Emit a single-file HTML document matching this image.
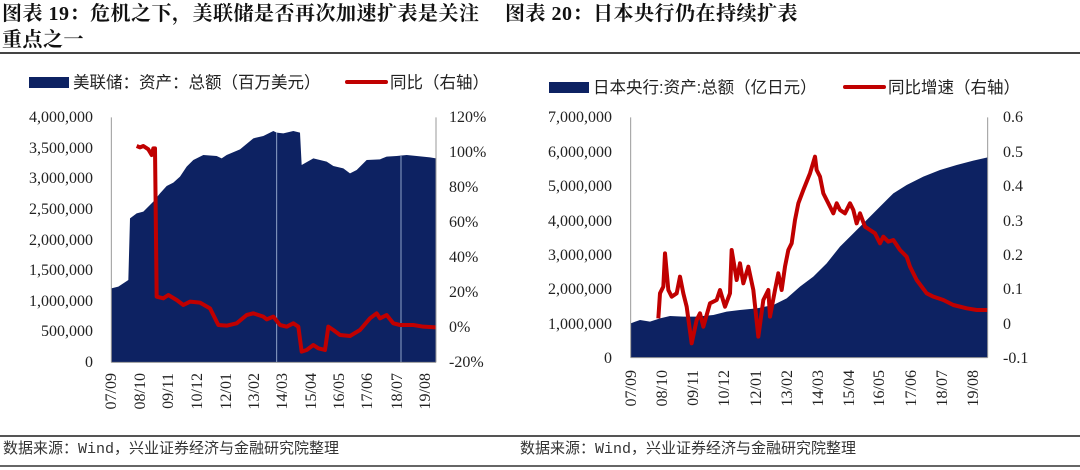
<!DOCTYPE html>
<html><head><meta charset="utf-8"><style>
body{margin:0;background:#fff;}
svg{display:block;}
.t{font-family:"Liberation Serif","Noto Serif CJK SC",serif;font-weight:bold;font-size:20px;fill:#111;letter-spacing:0.5px;}
.l{font-family:"Liberation Sans","Noto Sans CJK SC",sans-serif;font-size:16.5px;fill:#222;}
.n{font-family:"Liberation Serif","Noto Serif CJK SC",serif;font-size:16px;fill:#222;}
.f{font-family:"Liberation Mono","Noto Sans CJK SC",monospace;font-size:15px;fill:#333;}
</style></head><body>
<svg width="1080" height="470" viewBox="0 0 1080 470" xmlns="http://www.w3.org/2000/svg">
<text class="t" x="2" y="20">图表 19：危机之下，美联储是否再次加速扩表是关注</text>
<text class="t" x="2" y="46">重点之一</text>
<text class="t" x="505" y="20">图表 20：日本央行仍在持续扩表</text>
<line x1="0" y1="53" x2="1080" y2="53" stroke="#444" stroke-width="2"/>
<line x1="0" y1="436" x2="1080" y2="436" stroke="#555" stroke-width="2"/>
<line x1="0" y1="466" x2="1080" y2="466" stroke="#333" stroke-width="1.5"/>
<text class="f" x="3" y="453">数据来源：Wind，兴业证券经济与金融研究院整理</text>
<text class="f" x="520" y="453">数据来源：Wind，兴业证券经济与金融研究院整理</text>

<rect x="29" y="77" width="40" height="11" fill="#0d2262"/>
<text class="l" x="73" y="88">美联储：资产：总额（百万美元）</text>
<line x1="347" y1="82" x2="386" y2="82" stroke="#c00000" stroke-width="4" stroke-linecap="round"/>
<text class="l" x="390" y="88">同比（右轴）</text>

<g transform="translate(0,60) scale(0.33333)">
<path fill="#0d2262" d="M334,685 L355,680 L385,660 L390,475 L410,460 L430,455 L460,425 L480,400 L500,378 L520,368 L540,350 L560,320 L580,300 L610,285 L650,288 L665,295 L680,285 L720,268 L760,235 L790,228 L820,213 L830,218 L850,220 L880,213 L900,218 L905,315 L940,295 L980,305 L1000,318 L1030,325 L1050,340 L1070,330 L1100,300 L1140,298 L1160,290 L1190,288 L1220,285 L1250,288 L1290,292 L1308,295 L1308,907 L334,907 Z"/>
<line x1="830" y1="218" x2="830" y2="907" stroke="#8fa3c8" stroke-width="3"/>
<line x1="1203" y1="288" x2="1203" y2="907" stroke="#8fa3c8" stroke-width="3"/>
<polyline fill="none" stroke="#c00000" stroke-width="12" stroke-linejoin="round" points="410,258 420,262 430,258 445,268 455,285 460,265 465,265 470,710 490,715 505,705 530,720 550,735 570,725 600,728 630,745 655,795 680,797 710,790 740,765 760,760 790,770 800,778 820,770 840,795 860,800 880,790 895,800 905,875 920,870 940,855 955,865 975,870 985,800 1000,810 1020,825 1050,828 1080,810 1110,775 1130,760 1140,775 1160,765 1180,790 1200,795 1240,795 1270,800 1308,802"/>
<g stroke="#999" stroke-width="3">
<line x1="334" y1="172" x2="334" y2="907"/><line x1="1308" y1="172" x2="1308" y2="907"/>
<line x1="334" y1="907" x2="1308" y2="907"/>
</g>
</g>
<g class="n" text-anchor="end">
<text x="93" y="122">4,000,000</text><text x="93" y="153">3,500,000</text><text x="93" y="183">3,000,000</text><text x="93" y="214">2,500,000</text><text x="93" y="245">2,000,000</text><text x="93" y="275">1,500,000</text><text x="93" y="306">1,000,000</text><text x="93" y="336">500,000</text><text x="93" y="367">0</text>
</g>
<g class="n">
<text x="449" y="122">120%</text><text x="449" y="157">100%</text><text x="449" y="192">80%</text><text x="449" y="227">60%</text><text x="449" y="262">40%</text><text x="449" y="297">20%</text><text x="449" y="332">0%</text><text x="449" y="367">-20%</text>
</g>
<g class="n" text-anchor="end">
<text transform="translate(116,373) rotate(-90)">07/09</text>
<text transform="translate(145,373) rotate(-90)">08/10</text>
<text transform="translate(173,373) rotate(-90)">09/11</text>
<text transform="translate(202,373) rotate(-90)">10/12</text>
<text transform="translate(231,373) rotate(-90)">12/01</text>
<text transform="translate(259,373) rotate(-90)">13/02</text>
<text transform="translate(287,373) rotate(-90)">14/03</text>
<text transform="translate(316,373) rotate(-90)">15/04</text>
<text transform="translate(344,373) rotate(-90)">16/05</text>
<text transform="translate(372,373) rotate(-90)">17/06</text>
<text transform="translate(402,373) rotate(-90)">18/07</text>
<text transform="translate(430,373) rotate(-90)">19/08</text>
</g>

<rect x="549" y="82" width="40" height="11" fill="#0d2262"/>
<text class="l" x="593" y="93">日本央行:资产:总额（亿日元）</text>
<line x1="845" y1="87" x2="884" y2="87" stroke="#c00000" stroke-width="4" stroke-linecap="round"/>
<text class="l" x="888" y="93">同比增速（右轴）</text>

<g transform="translate(540,60) scale(0.33333)">
<path fill="#0d2262" d="M272,790 L300,780 L330,785 L360,775 L390,768 L430,770 L470,770 L520,765 L560,755 L600,750 L650,745 L700,735 L740,715 L780,680 L820,650 L860,610 L900,560 L940,520 L980,480 L1020,440 L1060,400 L1100,375 L1150,350 L1200,330 L1250,315 L1300,302 L1343,292 L1343,893 L272,893 Z"/>
<polyline fill="none" stroke="#c00000" stroke-width="12" stroke-linejoin="round" points="355,775 360,700 370,680 375,580 385,690 395,710 410,700 420,650 430,700 440,740 455,850 470,780 480,760 490,800 510,730 530,720 540,690 555,740 570,700 575,570 590,660 600,610 610,670 625,620 640,690 655,830 670,720 685,690 690,770 705,690 715,640 725,690 735,620 745,570 755,550 765,480 775,430 790,390 810,340 825,290 830,330 840,350 850,400 860,420 870,440 880,460 890,430 900,450 915,460 930,430 940,450 950,490 960,460 975,500 990,510 1005,520 1020,550 1030,530 1045,545 1060,540 1080,570 1100,590 1110,620 1130,660 1160,700 1180,710 1210,720 1240,735 1280,745 1310,750 1343,750"/>
<g stroke="#999" stroke-width="3">
<line x1="272" y1="172" x2="272" y2="893"/><line x1="1343" y1="172" x2="1343" y2="893"/>
<line x1="272" y1="893" x2="1343" y2="893"/>
</g>
</g>
<g class="n" text-anchor="end">
<text x="612" y="122">7,000,000</text><text x="612" y="157">6,000,000</text><text x="612" y="191">5,000,000</text><text x="612" y="226">4,000,000</text><text x="612" y="260">3,000,000</text><text x="612" y="294">2,000,000</text><text x="612" y="329">1,000,000</text><text x="612" y="363">0</text>
</g>
<g class="n">
<text x="1003" y="122">0.6</text><text x="1003" y="157">0.5</text><text x="1003" y="191">0.4</text><text x="1003" y="226">0.3</text><text x="1003" y="260">0.2</text><text x="1003" y="294">0.1</text><text x="1003" y="329">0</text><text x="1003" y="363">-0.1</text>
</g>
<g class="n" text-anchor="end">
<text transform="translate(636,370) rotate(-90)">07/09</text>
<text transform="translate(667,370) rotate(-90)">08/10</text>
<text transform="translate(698,370) rotate(-90)">09/11</text>
<text transform="translate(729,370) rotate(-90)">10/12</text>
<text transform="translate(761,370) rotate(-90)">12/01</text>
<text transform="translate(792,370) rotate(-90)">13/02</text>
<text transform="translate(823,370) rotate(-90)">14/03</text>
<text transform="translate(854,370) rotate(-90)">15/04</text>
<text transform="translate(884,370) rotate(-90)">16/05</text>
<text transform="translate(916,370) rotate(-90)">17/06</text>
<text transform="translate(947,370) rotate(-90)">18/07</text>
<text transform="translate(978,370) rotate(-90)">19/08</text>
</g>
</svg>
</body></html>
